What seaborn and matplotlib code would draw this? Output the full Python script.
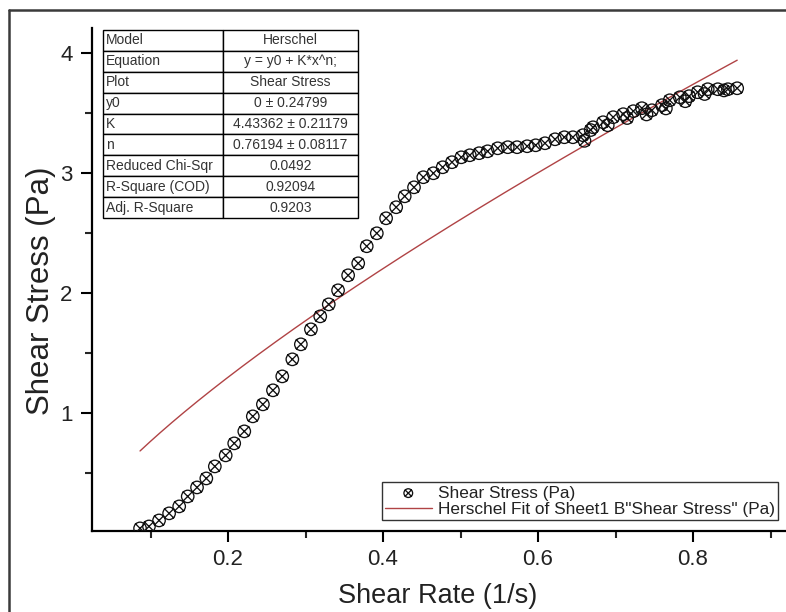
import numpy as np
import pandas as pd
import matplotlib
matplotlib.use("Agg")
import matplotlib.pyplot as plt
from matplotlib.path import Path
from matplotlib.lines import Line2D
from matplotlib.ticker import MultipleLocator
import seaborn as sns

# Measured flow curve
shear_rate = [0.0865, 0.098, 0.111, 0.124, 0.137, 0.148, 0.160, 0.172, 0.183, 0.197,
              0.208, 0.221, 0.232, 0.245, 0.258, 0.270, 0.283, 0.294, 0.307, 0.319,
              0.330, 0.342, 0.355, 0.368, 0.379, 0.392, 0.404, 0.417, 0.428, 0.440,
              0.452, 0.465, 0.477, 0.489, 0.501, 0.512, 0.524, 0.535, 0.548, 0.561,
              0.573, 0.586, 0.597, 0.609, 0.622, 0.634, 0.645, 0.658, 0.660, 0.668,
              0.671, 0.684, 0.690, 0.697, 0.710, 0.715, 0.723, 0.734, 0.740, 0.747,
              0.760, 0.765, 0.770, 0.783, 0.790, 0.795, 0.806, 0.815, 0.819, 0.832,
              0.840, 0.845, 0.857]
shear_stress = [0.042, 0.058, 0.108, 0.167, 0.225, 0.308, 0.383, 0.458, 0.558, 0.650,
                0.750, 0.850, 0.975, 1.075, 1.192, 1.308, 1.450, 1.575, 1.700, 1.808,
                1.908, 2.025, 2.150, 2.250, 2.392, 2.500, 2.625, 2.717, 2.808, 2.883,
                2.967, 3.000, 3.050, 3.092, 3.133, 3.150, 3.167, 3.183, 3.208, 3.217,
                3.217, 3.225, 3.233, 3.250, 3.283, 3.300, 3.300, 3.317, 3.270, 3.360,
                3.383, 3.425, 3.400, 3.467, 3.492, 3.460, 3.517, 3.542, 3.490, 3.525,
                3.567, 3.540, 3.608, 3.633, 3.600, 3.642, 3.675, 3.660, 3.700, 3.700,
                3.690, 3.700, 3.708]

# Herschel fit results
param_names = ["y0", "K", "n"]
param_values = [0.0, 4.43362, 0.76194]
param_errors = [0.24799, 0.21179, 0.08117]
reduced_chi_sqr = "0.0492"
r_square = "0.92094"
adj_r_square = "0.9203"

x_ticks = [0.2, 0.4, 0.6, 0.8]
y_ticks = [1, 2, 3, 4]

sns.set_theme(style="ticks")
plt.rcParams["font.family"] = ["Liberation Sans", "DejaVu Sans"]

W, H = 786, 612
fig = plt.figure(figsize=(W / 100, H / 100), dpi=100)
ax = fig.add_axes([92 / W, 1 - 531 / H, (786 - 92) / W, (531 - 28) / H])
ax_w, ax_h = 786 - 92, 531 - 28

# circle-with-cross marker
d = 0.8
cross = Path([[-d, -d], [d, d], [-d, d], [d, -d]],
             [Path.MOVETO, Path.LINETO, Path.MOVETO, Path.LINETO])
otimes = Path.make_compound_path(Path.unit_circle(), cross)

df = pd.DataFrame({"rate": shear_rate, "stress": shear_stress})
sns.scatterplot(data=df, x="rate", y="stress", ax=ax, marker=otimes, s=80,
                facecolors="none", edgecolor="#111111", linewidth=0.95,
                label="Shear Stress (Pa)", zorder=3)

y0, K, n = param_values
xf = np.linspace(min(shear_rate), max(shear_rate), 300)
fit = pd.DataFrame({"rate": xf, "stress": y0 + K * xf ** n})
sns.lineplot(data=fit, x="rate", y="stress", ax=ax, color="#b04345", lw=1.0,
             estimator=None, sort=False,
             label="Herschel Fit of Sheet1 B\"Shear Stress\" (Pa)", zorder=2)

ax.set_xlim(0.0245, 0.92)
ax.set_ylim(0.02, 4.21)
ax.set_xticks(x_ticks)
ax.set_yticks(y_ticks)
ax.xaxis.set_minor_locator(MultipleLocator(0.1))
ax.yaxis.set_minor_locator(MultipleLocator(0.5))
ax.tick_params(which="major", direction="out", length=8, width=1.5,
               labelsize=16, colors="black", labelcolor="#222222")
ax.tick_params(axis="x", which="major", pad=5)
ax.tick_params(axis="y", which="major", pad=6)
ax.tick_params(which="minor", direction="out", length=5, width=1.5)
ax.set_xticklabels([f"{t:.1f}" for t in x_ticks])
ax.set_yticklabels([f"{t}" for t in y_ticks])
for side in ["top", "right"]:
    ax.spines[side].set_visible(False)
for side in ["left", "bottom"]:
    ax.spines[side].set_linewidth(1.6)
    ax.spines[side].set_color("black")

ax.set_xlabel("Shear Rate (1/s)", fontsize=19.5, color="#222222")
ax.set_ylabel("Shear Stress (Pa)", fontsize=22.5, color="#222222")
ax.xaxis.label.set_va("center")
ax.yaxis.label.set_va("center")
ax.xaxis.set_label_coords((438 - 92) / ax_w, (531 - 596) / ax_h)
ax.yaxis.set_label_coords((41.5 - 92) / ax_w, (531 - 291) / ax_h)

leg = ax.legend(loc="lower right",
                bbox_to_anchor=((778 - 92) / ax_w, (531 - 520) / ax_h),
                borderaxespad=0, fontsize=12.4, frameon=True, fancybox=False,
                edgecolor="black", handlelength=2.7, handletextpad=0.35,
                borderpad=0.2, labelspacing=0.05, markerscale=0.7)
leg.get_frame().set_linewidth(1.0)
for t in leg.get_texts():
    t.set_color("#222222")

# fit summary table
rows = [["Model", "Herschel"],
        ["Equation", "y = y0 + K*x^n;"],
        ["Plot", "Shear Stress"]]
for name, v, e in zip(param_names, param_values, param_errors):
    val = "0" if v == 0 else f"{v:.5f}"
    rows.append([name, f"{val} \u00b1 {e:.5f}"])
rows += [["Reduced Chi-Sqr", reduced_chi_sqr],
         ["R-Square (COD)", r_square],
         ["Adj. R-Square", adj_r_square]]

tbl = ax.table(cellText=rows, colWidths=[120, 135],
               bbox=[(103 - 92) / ax_w, (531 - 218) / ax_h,
                     (358 - 103) / ax_w, (218 - 30) / ax_h],
               zorder=5)
tbl.auto_set_font_size(False)
tbl.set_fontsize(10)
for (r, c), cell in tbl.get_celld().items():
    cell.set_edgecolor("black")
    cell.set_linewidth(1.0)
    cell.set_facecolor("white")
    cell.get_text().set_color("#333333")
    if c == 0:
        cell.PAD = 0.025
        cell._loc = "left"
        cell.get_text().set_ha("left")
    else:
        cell._loc = "center"
        cell.get_text().set_ha("center")

# outer frame (left and top edges)
fx, fy = 9 / W, 1 - 10 / H
fig.add_artist(Line2D([fx, fx], [0, fy], transform=fig.transFigure,
                      color="#3a3a3a", lw=1.8))
fig.add_artist(Line2D([fx, 1], [fy, fy], transform=fig.transFigure,
                      color="#3a3a3a", lw=1.8))

fig.savefig("out.png", dpi=100, facecolor="white")
